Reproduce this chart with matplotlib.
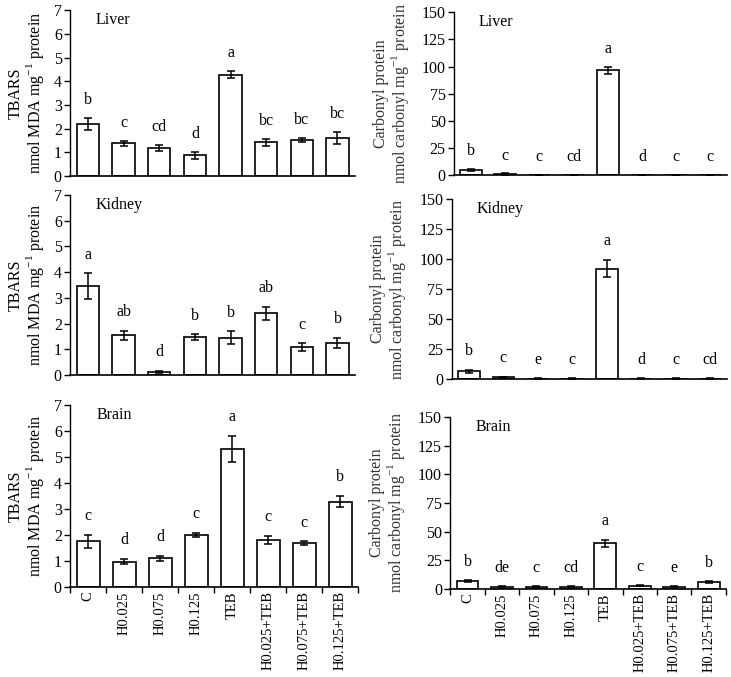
import matplotlib
matplotlib.use("Agg")
import matplotlib.pyplot as plt
import numpy as np

plt.rcParams['font.family'] = ['Liberation Serif', 'DejaVu Serif']
plt.rcParams['mathtext.fontset'] = 'custom'
plt.rcParams['mathtext.rm'] = 'Liberation Serif'

groups = ["C", "H0.025", "H0.075", "H0.125", "TEB", "H0.025+TEB", "H0.075+TEB", "H0.125+TEB"]

# TBARS (nmol MDA mg-1 protein)
tbars_liver = [2.2, 1.38, 1.18, 0.88, 4.28, 1.42, 1.52, 1.62]
tbars_liver_err = [0.25, 0.1, 0.12, 0.15, 0.15, 0.15, 0.1, 0.25]
tbars_liver_let = ["b", "c", "cd", "d", "a", "bc", "bc", "bc"]

tbars_kidney = [3.45, 1.55, 0.12, 1.48, 1.45, 2.4, 1.08, 1.25]
tbars_kidney_err = [0.5, 0.18, 0.03, 0.1, 0.25, 0.25, 0.15, 0.2]
tbars_kidney_let = ["a", "ab", "d", "b", "b", "ab", "c", "b"]

tbars_brain = [1.75, 0.97, 1.1, 2.0, 5.3, 1.82, 1.68, 3.28]
tbars_brain_err = [0.25, 0.1, 0.1, 0.07, 0.5, 0.15, 0.07, 0.22]
tbars_brain_let = ["c", "d", "d", "c", "a", "c", "c", "b"]

# Carbonyl protein (nmol carbonyl mg-1 protein)
carb_liver = [5.0, 1.2, 0.5, 0.5, 96.5, 0.5, 0.5, 0.5]
carb_liver_err = [1.0, 0.5, 0.1, 0.1, 3.5, 0.1, 0.1, 0.1]
carb_liver_let = ["b", "c", "c", "cd", "a", "d", "c", "c"]

carb_kidney = [6.5, 1.5, 0.5, 0.5, 92.0, 0.5, 0.5, 0.5]
carb_kidney_err = [1.0, 0.3, 0.1, 0.1, 7.0, 0.1, 0.1, 0.1]
carb_kidney_let = ["b", "c", "e", "c", "a", "d", "c", "cd"]

carb_brain = [7.0, 2.0, 2.0, 2.0, 40.0, 3.0, 2.0, 6.0]
carb_brain_err = [0.8, 0.3, 0.5, 0.3, 3.0, 0.5, 0.5, 0.7]
carb_brain_let = ["b", "de", "c", "cd", "a", "c", "e", "b"]

panels = [
    # (rect, values, errors, letters, title, ymax, ystep, kind, bottom_row)
    ([0.096, 0.740, 0.390, 0.245], tbars_liver, tbars_liver_err, tbars_liver_let, "Liver", 7, 1, "tbars", False),
    ([0.621, 0.741, 0.374, 0.241], carb_liver, carb_liver_err, carb_liver_let, "Liver", 150, 25, "carb", False),
    ([0.096, 0.446, 0.390, 0.266], tbars_kidney, tbars_kidney_err, tbars_kidney_let, "Kidney", 7, 1, "tbars", False),
    ([0.618, 0.440, 0.377, 0.266], carb_kidney, carb_kidney_err, carb_kidney_let, "Kidney", 150, 25, "carb", False),
    ([0.096, 0.133, 0.394, 0.269], tbars_brain, tbars_brain_err, tbars_brain_let, "Brain", 7, 1, "tbars", True),
    ([0.616, 0.130, 0.377, 0.254], carb_brain, carb_brain_err, carb_brain_let, "Brain", 150, 25, "carb", True),
]

fig = plt.figure(figsize=(7.31, 6.77), dpi=100)
x = np.arange(len(groups))

for rect, vals, errs, lets, title, ymax, ystep, kind, bottom_row in panels:
    ax = fig.add_axes(rect)
    ax.bar(x, vals, width=0.63, color="white", edgecolor="black", linewidth=1.2, zorder=2)
    ax.errorbar(x, vals, yerr=errs, fmt="none", ecolor="black", elinewidth=1.1,
                capsize=3, capthick=1.1, zorder=3)
    off = 0.06 * ymax
    for xi, v, e, l in zip(x, vals, errs, lets):
        ax.text(xi, v + e + off, l, ha="center", va="bottom", fontsize=11.5)
    ax.set_xlim(-0.5, 7.5)
    ax.set_ylim(0, ymax)
    ax.set_yticks(np.arange(0, ymax + ystep / 2, ystep))
    ax.tick_params(axis="y", direction="out", length=4, width=1, labelsize=11.5, pad=2)
    for s in ["top", "right"]:
        ax.spines[s].set_visible(False)
    ax.spines["left"].set_linewidth(1)
    ax.spines["bottom"].set_linewidth(1.2)
    ax.text(0.09, 0.99, title, transform=ax.transAxes, ha="left", va="top", fontsize=11.5)

    if bottom_row:
        ax.set_xticks(x)
        ax.set_xticklabels(groups, rotation=90, fontsize=10.5)
        ax.tick_params(axis="x", which="major", length=0, pad=3)
        ax.set_xticks(np.arange(-0.5, 8.0, 1.0), minor=True)
        ax.tick_params(axis="x", which="minor", length=4, width=1, direction="out")
    else:
        ax.set_xticks([])

    if kind == "tbars":
        ax.set_ylabel("TBARS\nnmol MDA mg$^{-1}$ protein", fontsize=11.5, labelpad=6,
                      linespacing=1.0)
    else:
        ax.set_ylabel("Carbonyl protein\nnmol carbonyl mg$^{-1}$ protein", fontsize=11.5,
                      labelpad=8, linespacing=1.0, color="#333333")

fig.savefig("out.png", dpi=100)
